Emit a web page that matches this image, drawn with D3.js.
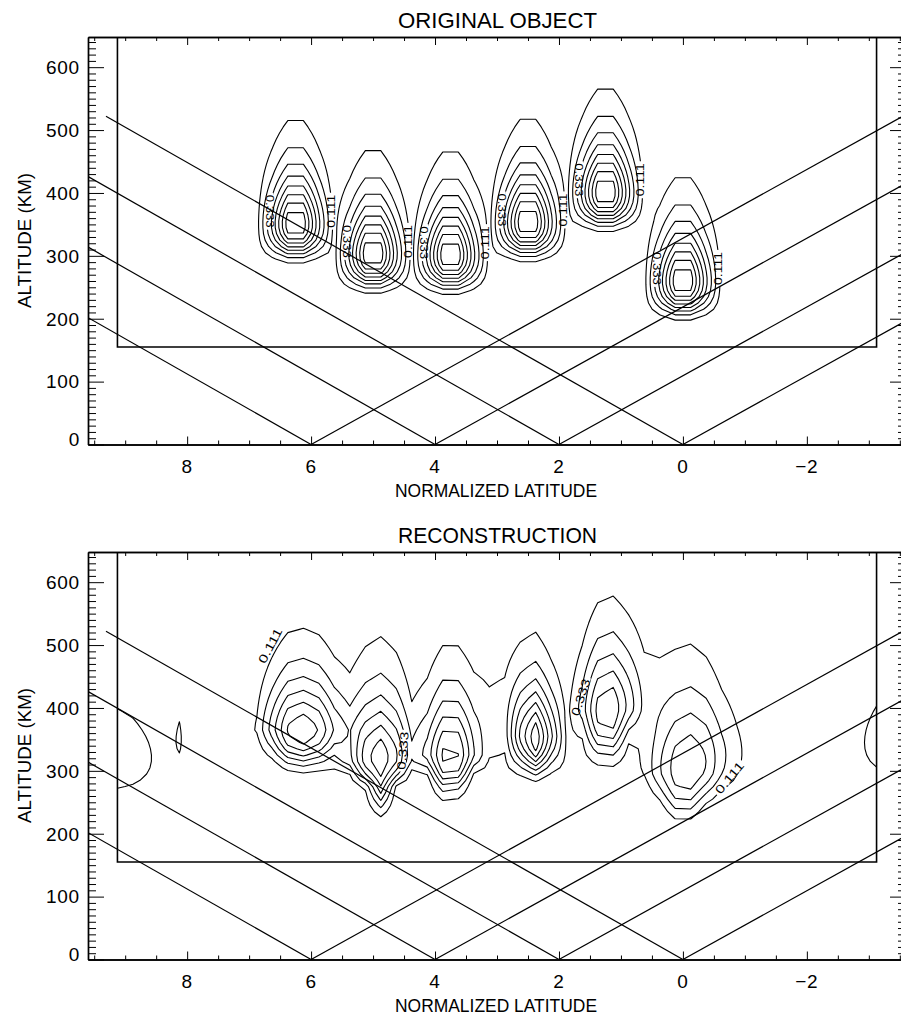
<!DOCTYPE html>
<html>
<head>
<meta charset="utf-8">
<script src="https://cdn.jsdelivr.net/npm/d3@7"></script>
<style>
  body { margin: 0; background: #fff; }
  svg { display: block; }
  text { font-family: "Liberation Sans", Arial, sans-serif; fill: #000; }
</style>
</head>
<body>
<svg id="chart" width="901" height="1017"></svg>
<script>
// ---------------- data ----------------
const xTicksMajor = [8, 6, 4, 2, 0, -2];
const yTicksMajor = [0, 100, 200, 300, 400, 500, 600];
const contourLevels = [0.111, 0.222, 0.333, 0.444, 0.555, 0.666, 0.777, 0.888];

// Original object: six ionisation patches (alpha-Chapman in altitude)
const objLat       = [6.25, 5.0, 3.75, 2.5, 1.25, 0.0];
const objPeakAlt   = [351, 303, 301, 353, 401, 260];
const objScaleH    = [31, 31, 31, 31, 31, 31];
const objLatWidth  = [0.42, 0.42, 0.42, 0.42, 0.42, 0.42];
const objPeak      = [1, 1, 1, 1, 1, 1];

// Reconstruction: recovered patches, smearing, background and edge artefacts
const recLat    = [6.15, 4.89, 3.76, 2.39, 1.23, 0.00, -0.55, 9.40, -3.35, 8.08, 2.95, 0.75, 3.2, 5.5];
const recAlt    = [365, 317, 322, 354, 397, 296, 330, 320, 345, 357, 410, 430, 330, 345];
const recPeak   = [0.72, 0.68, 0.62, 0.79, 0.60, 0.46, 0.16, 0.20, 0.17, 0.10, 0.10, 0.10, 0.09, 0.09];
const recHUp    = [34, 42, 40, 33, 40, 50, 40, 40, 40, 36, 40, 40, 25, 30];
const recHDown  = [34, 48, 40, 34, 45, 44, 45, 40, 40, 36, 40, 40, 35, 40];
const recWidth  = [0.56, 0.42, 0.40, 0.31, 0.41, 0.50, 0.50, 1.0, 0.6, 0.117, 0.40, 0.40, 3.3, 0.30];
const recTaper  = [0.2, 0.6, 0.5, 0.15, 0.3, 0.3, 0, 0, 0, 0, 0, 0, 0, 0];

// Contour labels of the reconstruction (level, position, text angle)
const recLabelText  = ["0.111", "0.333", "0.333", "0.111"];
const recLabelLevel = [0.111, 0.333, 0.333, 0.111];
const recLabelLat   = [6.66, 4.52, 1.65, -0.75];
const recLabelAlt   = [499, 332, 417, 289];
const recLabelAngle = [-62, -85, -72, -50];

// Ground receivers and satellite rays
const receiverLat = [6, 4, 2, 0];
const satelliteAlt = 522;
const rayReachLeft = 9.31;    // latitude span of a ray toward higher latitude
const rayReachRight = 9.55;   // latitude span of a ray toward lower latitude

// Reconstruction grid (the inner box)
const gridLat = [9.125, -3.125];
const gridAlt = [155, 655];
const gridStepLat = 0.25;
const gridStepAlt = 10;

// ---------------- layout ----------------
const svg = d3.select("#chart");
const panelShift = 515;
const xRange = [88, 906];
const yRangeTop = [444.5, 37];

function chapmanZ(h, hm, hUp, hDown) {
  return (h - hm) / (h >= hm ? hUp : hDown);
}
function chapman(z) {
  return Math.exp(0.5 * (1 - z - Math.exp(-z)));
}
function latProfile(d, w) {
  return Math.exp(-Math.pow(Math.abs(d) / w, 2.5));
}

function objectField(lat, alt) {
  let v = 0;
  for (let i = 0; i < objLat.length; i++) {
    const z = chapmanZ(alt, objPeakAlt[i], objScaleH[i], objScaleH[i]);
    const f = objPeak[i] * chapman(z) * latProfile(lat - objLat[i], objLatWidth[i]);
    if (f > v) v = f;
  }
  return v;
}
function reconField(lat, alt) {
  let v = 0;
  for (let i = 0; i < recLat.length; i++) {
    const z = chapmanZ(alt, recAlt[i], recHUp[i], recHDown[i]);
    const w = z < 0 ? recWidth[i] * Math.max(0.45, 1 + recTaper[i] * z) : recWidth[i];
    v += recPeak[i] * chapman(z) * latProfile(lat - recLat[i], w);
  }
  return v;
}

function fieldGrid(fn) {
  const nx = Math.round((gridLat[0] - gridLat[1]) / gridStepLat) + 1;
  const ny = Math.round((gridAlt[1] - gridAlt[0]) / gridStepAlt) + 1;
  const values = new Float64Array(nx * ny);
  for (let j = 0; j < ny; j++) {
    const alt = gridAlt[0] + j * gridStepAlt;
    for (let i = 0; i < nx; i++) {
      values[i + j * nx] = fn(gridLat[0] - i * gridStepLat, alt);
    }
  }
  return { nx, ny, values };
}

// labels sitting on the object contours, next to each patch
function objectLabels() {
  const out = [];
  for (let i = 0; i < objLat.length; i++) {
    const h = objPeakAlt[i] + 20;
    const fh = objPeak[i] * chapman(chapmanZ(h, objPeakAlt[i], objScaleH[i], objScaleH[i]));
    const dL = objLatWidth[i] * Math.pow(Math.log(fh / 0.333), 0.4);
    const dR = objLatWidth[i] * Math.pow(Math.log(fh / 0.111), 0.4);
    out.push({ text: "0.333", level: 0.333, lat: objLat[i] + dL, alt: h, angle: 90, len: 33, size: 11 });
    out.push({ text: "0.111", level: 0.111, lat: objLat[i] - dR, alt: h, angle: -90, len: 33, size: 11 });
  }
  return out;
}
function reconLabels() {
  return recLabelText.map((t, i) => ({
    text: t, level: recLabelLevel[i], lat: recLabelLat[i], alt: recLabelAlt[i],
    angle: recLabelAngle[i], len: 38, size: 12
  }));
}

function drawPanel(id, dy, title, fn, labels) {
  const x = d3.scaleLinear([9.6, -3.6], xRange);
  const y = d3.scaleLinear([0, 648], [yRangeTop[0] + dy, yRangeTop[1] + dy]);
  const g = svg.append("g").attr("id", id);
  const defs = svg.append("defs");

  const [x0, x1] = xRange;
  const yb = y.range()[0], yt = y.range()[1];

  // clip regions
  defs.append("clipPath").attr("id", id + "-plot")
    .append("rect").attr("x", x0).attr("y", yt).attr("width", x1 - x0).attr("height", yb - yt);
  const bx0 = x(gridLat[0]), bx1 = x(gridLat[1]), byb = y(gridAlt[0]);
  defs.append("clipPath").attr("id", id + "-box")
    .append("rect").attr("x", bx0).attr("y", yt).attr("width", bx1 - bx0).attr("height", byb - yt);

  // satellite rays
  const rays = [];
  receiverLat.forEach(r => {
    rays.push([[r, 0], [r + rayReachLeft, satelliteAlt]]);
    rays.push([[r, 0], [r - rayReachRight, satelliteAlt]]);
  });
  const line = d3.line().x(d => x(d[0])).y(d => y(d[1]));
  g.append("g").attr("clip-path", `url(#${id}-plot)`)
    .selectAll("path").data(rays).join("path")
    .attr("d", line).attr("fill", "none").attr("stroke", "#000").attr("stroke-width", 1.2);

  // reconstruction domain box
  g.append("path").attr("clip-path", `url(#${id}-plot)`)
    .attr("d", line([[gridLat[0], gridAlt[1]], [gridLat[0], gridAlt[0]], [gridLat[1], gridAlt[0]], [gridLat[1], gridAlt[1]]]))
    .attr("fill", "none").attr("stroke", "#000").attr("stroke-width", 1.6);

  // contours
  const grid = fieldGrid(fn);
  const contours = d3.contours().size([grid.nx, grid.ny]).thresholds(contourLevels).smooth(true)(grid.values);
  const proj = d3.geoTransform({
    point(px, py) {
      const lat = gridLat[0] - (px - 0.5) * gridStepLat;
      const alt = gridAlt[0] + (py - 0.5) * gridStepAlt;
      this.stream.point(x(lat), y(alt));
    }
  });
  const path = d3.geoPath(proj);

  // masks opening gaps under the labels
  const labelPos = labels.map(l => Object.assign({}, l, { px: x(l.lat), py: y(l.alt) }));
  contourLevels.forEach((lev, k) => {
    const mine = labelPos.filter(l => l.level === lev);
    if (!mine.length) return;
    const m = defs.append("mask").attr("id", `${id}-m${k}`).attr("maskUnits", "userSpaceOnUse")
      .attr("x", 0).attr("y", 0).attr("width", 901).attr("height", 1017);
    m.append("rect").attr("x", 0).attr("y", 0).attr("width", 901).attr("height", 1017).attr("fill", "#fff");
    mine.forEach(l => {
      m.append("rect").attr("x", -l.len / 2 - 2).attr("y", -4).attr("width", l.len + 4).attr("height", 8)
        .attr("fill", "#000").attr("transform", `translate(${l.px},${l.py}) rotate(${l.angle})`);
    });
  });

  const cg = g.append("g").attr("clip-path", `url(#${id}-box)`);
  cg.selectAll("path").data(contours).join("path")
    .attr("d", path)
    .attr("fill", "none").attr("stroke", "#000").attr("stroke-width", 1.1)
    .attr("stroke-linejoin", "round")
    .attr("mask", (d, k) => labelPos.some(l => l.level === contourLevels[k]) ? `url(#${id}-m${k})` : null);

  g.append("g").selectAll("text").data(labelPos).join("text")
    .attr("transform", d => `translate(${d.px},${d.py}) rotate(${d.angle})`)
    .attr("text-anchor", "middle").attr("dy", "0.35em")
    .attr("font-size", d => d.size)
    .attr("textLength", d => d.len).attr("lengthAdjust", "spacingAndGlyphs")
    .text(d => d.text);

  // axes
  const latMinor = d3.range(-3.5, 9.51, 0.5).filter(v => !xTicksMajor.includes(v));
  const altMinor = d3.range(0, 641, 10).filter(v => v % 100 !== 0);
  const ax = g.append("g");
  const styleAxis = sel => {
    sel.selectAll(".domain").attr("stroke", "#000").attr("stroke-width", 1.4);
    sel.selectAll(".tick line").attr("stroke", "#000").attr("stroke-width", 1);
  };
  ax.append("g").attr("transform", `translate(0,${yb})`)
    .call(d3.axisBottom(x).tickValues(xTicksMajor).tickSize(-8).tickSizeOuter(0).tickFormat(""))
    .call(styleAxis);
  ax.append("g").attr("transform", `translate(0,${yb})`)
    .call(d3.axisBottom(x).tickValues(latMinor).tickSize(-4).tickSizeOuter(0).tickFormat(""))
    .call(styleAxis);
  ax.append("g").attr("transform", `translate(0,${yt})`)
    .call(d3.axisTop(x).tickValues(xTicksMajor).tickSize(-8).tickSizeOuter(0).tickFormat(""))
    .call(styleAxis);
  ax.append("g").attr("transform", `translate(0,${yt})`)
    .call(d3.axisTop(x).tickValues(latMinor).tickSize(-4).tickSizeOuter(0).tickFormat(""))
    .call(styleAxis);
  ax.append("g").attr("transform", `translate(${x0},0)`)
    .call(d3.axisLeft(y).tickValues(yTicksMajor).tickSize(-16).tickSizeOuter(0).tickFormat(""))
    .call(styleAxis);
  ax.append("g").attr("transform", `translate(${x0},0)`)
    .call(d3.axisLeft(y).tickValues(altMinor).tickSize(-8).tickSizeOuter(0).tickFormat(""))
    .call(styleAxis);
  ax.append("g").attr("transform", `translate(${x1},0)`)
    .call(d3.axisRight(y).tickValues(yTicksMajor).tickSize(-16).tickSizeOuter(0).tickFormat(""))
    .call(styleAxis);
  ax.append("g").attr("transform", `translate(${x1},0)`)
    .call(d3.axisRight(y).tickValues(altMinor).tickSize(-8).tickSizeOuter(0).tickFormat(""))
    .call(styleAxis);

  // tick labels
  const fmt = d3.format("d");
  ax.append("g").selectAll("text").data(xTicksMajor).join("text")
    .attr("x", d => x(d)).attr("y", yb + 28.5)
    .attr("text-anchor", "middle").attr("font-size", 19).attr("letter-spacing", 0.8)
    .text(d => fmt(d));
  ax.append("g").selectAll("text").data(yTicksMajor).join("text")
    .attr("x", x0 - 8).attr("y", d => d === 0 ? y(d) + 1 : y(d) + 6.8)
    .attr("text-anchor", "end").attr("font-size", 19).attr("letter-spacing", 0.8)
    .text(d => fmt(d));

  // titles
  g.append("text").attr("x", 398).attr("y", 28 + dy).attr("font-size", 22)
    .attr("textLength", 199).attr("lengthAdjust", "spacingAndGlyphs").text(title);
  g.append("text").attr("x", 395).attr("y", 497 + dy).attr("font-size", 18.5)
    .attr("textLength", 202).attr("lengthAdjust", "spacingAndGlyphs").text("NORMALIZED LATITUDE");
  g.append("text").attr("transform", `translate(30.5,${240.5 + dy}) rotate(-90)`)
    .attr("text-anchor", "middle").attr("font-size", 18.5)
    .attr("textLength", 135).attr("lengthAdjust", "spacingAndGlyphs").text("ALTITUDE (KM)");
}

drawPanel("object", 0, "ORIGINAL OBJECT", objectField, objectLabels());
drawPanel("recon", panelShift, "RECONSTRUCTION", reconField, reconLabels());
</script>
</body>
</html>
